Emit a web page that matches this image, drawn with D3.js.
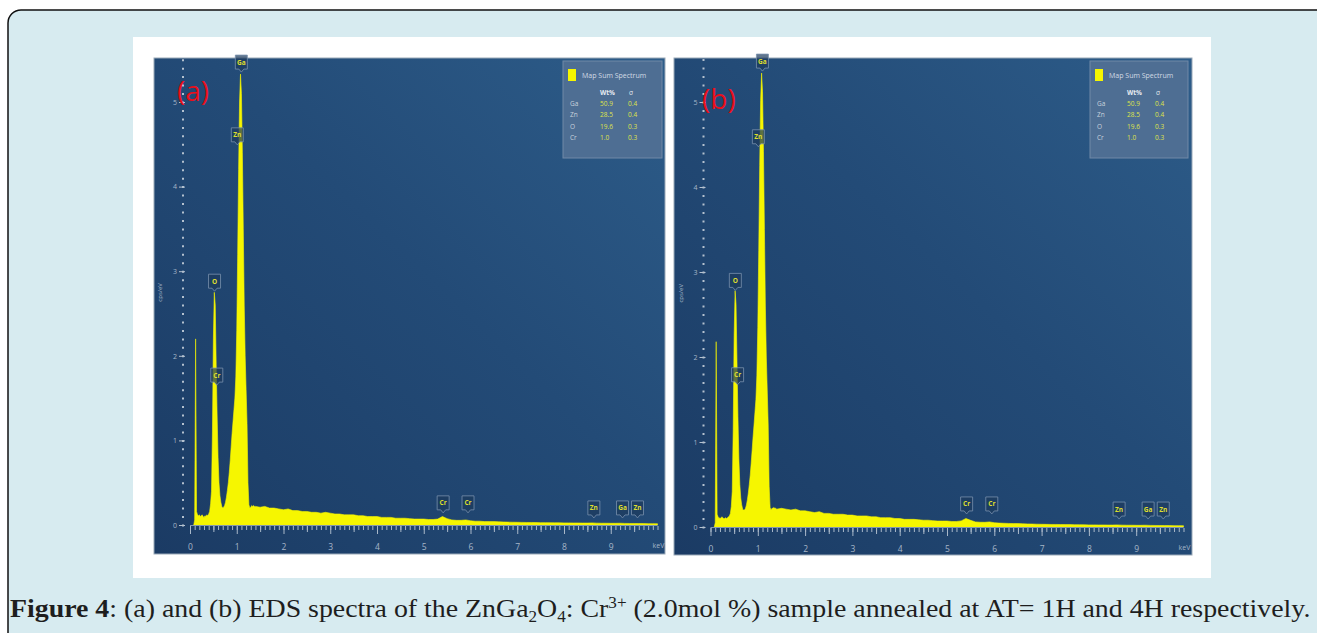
<!DOCTYPE html>
<head>
  <meta charset="utf-8">
  <script src="https://d3js.org/d3.v7.min.js"></script>
  <style>
    body { margin:0; background:#fff; }
    .tickText { font-family: 'Open Sans', sans-serif; fill: #a6b6c8; }
    .legendText { font-family: 'Open Sans', sans-serif; }
    .caption { font-family: 'Liberation Serif', serif; fill: #1e1e1e; }
  </style>
</head>

<body>
  <script>
  // ---- spectrum data (counts in cps/eV) ----
  // low energy channels: 0.00 .. 1.40 keV, every 0.02 keV
  const lowStart = 0, lowStep = 0.02;
  // tail channels: 1.5 .. 10.0 keV, every 0.1 keV
  const tailStart = 1.5, tailStep = 0.1;

  const countsLowA = [
    0, 0, 0, 0, 0, 0.06, 2.2, 0.16, 0.12, 0.11,
    0.12, 0.1, 0.11, 0.12, 0.1, 0.09, 0.11, 0.1, 0.12, 0.11,
    0.13, 0.16, 0.25, 0.4, 1.1, 2.2, 2.75, 2.6, 1.9, 1.3,
    0.8, 0.5, 0.35, 0.27, 0.22, 0.2, 0.21, 0.23, 0.27, 0.33,
    0.41, 0.5, 0.62, 0.76, 0.92, 1.08, 1.22, 1.36, 1.5, 1.75,
    2.3, 3.2, 4.2, 5.0, 5.33, 5.1, 4.4, 3.5, 2.6, 2.0,
    1.6, 1.2, 0.5, 0.24, 0.2, 0.21, 0.23, 0.22, 0.23, 0.22,
    0.22
  ];
  const countsTailA = [
    0.21, 0.22, 0.2, 0.2, 0.19, 0.18, 0.19, 0.17, 0.17, 0.16,
    0.16, 0.15, 0.15, 0.14, 0.15, 0.14, 0.13, 0.13, 0.12, 0.12,
    0.12, 0.11, 0.11, 0.1, 0.1, 0.1, 0.09, 0.09, 0.09, 0.08,
    0.08, 0.08, 0.075, 0.07, 0.07, 0.07, 0.065, 0.065, 0.07, 0.1,
    0.075, 0.06, 0.055, 0.055, 0.06, 0.05, 0.045, 0.045, 0.04, 0.04,
    0.04, 0.038, 0.036, 0.034, 0.033, 0.032, 0.031, 0.03, 0.03, 0.029,
    0.028, 0.028, 0.027, 0.026, 0.026, 0.025, 0.025, 0.024, 0.024, 0.023,
    0.023, 0.025, 0.022, 0.021, 0.021, 0.02, 0.02, 0.021, 0.019, 0.018,
    0.018, 0.017, 0.017, 0.016, 0.016, 0.015
  ];
  const countsLowB = [
    0, 0, 0, 0, 0, 0.05, 2.18, 0.15, 0.12, 0.1,
    0.11, 0.1, 0.12, 0.11, 0.1, 0.1, 0.11, 0.1, 0.11, 0.12,
    0.13, 0.16, 0.24, 0.42, 1.15, 2.25, 2.78, 2.62, 1.95, 1.3,
    0.8, 0.5, 0.34, 0.26, 0.21, 0.2, 0.2, 0.22, 0.26, 0.32,
    0.4, 0.5, 0.61, 0.75, 0.9, 1.06, 1.2, 1.35, 1.5, 1.78,
    2.35, 3.25, 4.25, 5.02, 5.34, 5.12, 4.42, 3.5, 2.6, 2.0,
    1.6, 1.2, 0.48, 0.23, 0.2, 0.22, 0.22, 0.23, 0.22, 0.22,
    0.21
  ];
  const countsTailB = [
    0.22, 0.21, 0.2, 0.21, 0.19, 0.19, 0.18, 0.17, 0.18, 0.16,
    0.16, 0.15, 0.15, 0.15, 0.14, 0.14, 0.13, 0.13, 0.13, 0.12,
    0.12, 0.11, 0.11, 0.11, 0.1, 0.1, 0.09, 0.09, 0.09, 0.085,
    0.08, 0.08, 0.075, 0.07, 0.07, 0.07, 0.065, 0.065, 0.072, 0.1,
    0.078, 0.06, 0.056, 0.055, 0.06, 0.05, 0.046, 0.044, 0.042, 0.04,
    0.04, 0.038, 0.036, 0.035, 0.033, 0.032, 0.031, 0.03, 0.03, 0.029,
    0.028, 0.028, 0.027, 0.027, 0.026, 0.025, 0.025, 0.024, 0.024, 0.023,
    0.023, 0.025, 0.022, 0.021, 0.021, 0.02, 0.02, 0.021, 0.019, 0.018,
    0.018, 0.017, 0.017, 0.016, 0.016, 0.015
  ];

  // peak identification tags (element, line energy in keV, count level under tag)
  const tagNames  = ['Ga', 'Zn', 'O', 'Cr', 'Cr', 'Cr', 'Zn', 'Ga', 'Zn'];
  const tagEnergy = [1.098, 1.012, 0.525, 0.573, 5.415, 5.947, 8.639, 9.252, 9.572];
  const tagLevelA = [5.33, 4.47, 2.74, 1.63, 0.12, 0.12, 0.06, 0.06, 0.06];
  const tagLevelB = [5.34, 4.45, 2.76, 1.65, 0.13, 0.13, 0.07, 0.07, 0.07];

  // quantification table
  const legendElems = ['Ga', 'Zn', 'O', 'Cr'];
  const wtPct = ['50.9', '28.5', '19.6', '1.0'];
  const sigma = ['0.4', '0.4', '0.3', '0.3'];

  // axis ticks
  const xMajor = [0, 1, 2, 3, 4, 5, 6, 7, 8, 9];
  const yMajor = [0, 1, 2, 3, 4, 5];

  // ---- page ----
  const svg = d3.select('body').append('svg')
                .attr('width', 1317)
                .attr('height', 633);

  const defs = svg.append('defs');
  const grad = defs.append('linearGradient')
                   .attr('id', 'panelBg')
                   .attr('x1', 0).attr('y1', 1).attr('x2', 1).attr('y2', 0);
  grad.append('stop').attr('offset', '0%').attr('stop-color', '#1b3b64');
  grad.append('stop').attr('offset', '55%').attr('stop-color', '#234b77');
  grad.append('stop').attr('offset', '100%').attr('stop-color', '#2d5c89');

  // light blue rounded frame and white figure area
  svg.append('rect')
     .attr('x', 8).attr('y', 10)
     .attr('width', 1340).attr('height', 680)
     .attr('rx', 13)
     .attr('fill', '#d7ebf0')
     .attr('stroke', '#111')
     .attr('stroke-width', 1.5);

  svg.append('rect')
     .attr('x', 133).attr('y', 37)
     .attr('width', 1078).attr('height', 541)
     .attr('fill', '#fff');

  const panels = [
    { label: '(a)', box: [154, 58, 511, 496], xr: [190, 657.5], yr: [525, 102], lab: [177, 101],
      legend: [563, 61, 99, 97], low: countsLowA, tail: countsTailA, tagLevel: tagLevelA },
    { label: '(b)', box: [674, 58, 518, 497], xr: [710.5, 1183.5], yr: [527, 102], lab: [702, 109],
      legend: [1090, 61, 98, 97], low: countsLowB, tail: countsTailB, tagLevel: tagLevelB }
  ];

  panels.forEach((p, pi) => {
    const g = svg.append('g').classed('panel', true);
    const [bx, by, bw, bh] = p.box;

    const x = d3.scaleLinear().domain([0, 10]).range(p.xr);
    const y = d3.scaleLinear().domain([0, 5]).range(p.yr);

    // background
    g.append('rect')
     .attr('x', bx).attr('y', by).attr('width', bw).attr('height', bh)
     .attr('fill', 'url(#panelBg)')
     .attr('stroke', '#9aa9b8')
     .attr('stroke-width', 1);

    const clipId = 'clip' + pi;
    defs.append('clipPath').attr('id', clipId)
        .append('rect').attr('x', bx).attr('y', by).attr('width', bw).attr('height', bh);

    // spectrum points
    const spec = p.low.map((c, i) => ({ e: lowStart + i * lowStep, c: c }))
                  .concat(p.tail.map((c, i) => ({ e: tailStart + i * tailStep, c: c })))
                  .filter(d => d.e >= 0.08);

    const area = d3.area()
                   .x(d => x(d.e))
                   .y0(y(0))
                   .y1(d => y(d.c));

    g.append('path')
     .datum(spec)
     .attr('clip-path', `url(#${clipId})`)
     .attr('d', area)
     .attr('fill', '#f6f600')
     .attr('stroke', '#f6f600')
     .attr('stroke-width', 0.6);

    // x axis: minor, mid and major ticks
    const xMinorAxis = d3.axisBottom(x).tickValues(d3.range(0, 10.05, 0.1)).tickSize(4).tickFormat('');
    const xMidAxis = d3.axisBottom(x).tickValues(d3.range(0.5, 10, 1)).tickSize(6).tickFormat('');
    const xMajorAxis = d3.axisBottom(x).tickValues(xMajor).tickSize(8).tickPadding(10).tickFormat(d3.format('d'));

    [xMinorAxis, xMidAxis, xMajorAxis].forEach(ax => {
      const a = g.append('g')
                 .attr('transform', `translate(0, ${y(0) + 1})`)
                 .call(ax);
      a.select('.domain').remove();
      a.selectAll('line').attr('stroke', '#a9b8c9').attr('stroke-width', 1);
      a.selectAll('text').attr('class', 'tickText').style('font-size', '8.5px');
    });

    g.append('line')
     .attr('x1', x(0)).attr('x2', x(10))
     .attr('y1', y(0) + 0.5).attr('y2', y(0) + 0.5)
     .attr('stroke', '#8497ad').attr('stroke-width', 1);

    g.append('text')
     .attr('class', 'tickText')
     .attr('x', x(10) + 1).attr('y', y(0) + 23)
     .attr('text-anchor', 'middle')
     .style('font-size', '7px')
     .text('keV');

    // y axis: dotted minor ticks and labelled majors
    const yMinorAxis = d3.axisLeft(y).tickValues(d3.range(0, 5.55, 0.1)).tickSize(2).tickFormat('');
    const yMajorAxis = d3.axisLeft(y).tickValues(yMajor).tickSize(6).tickPadding(2).tickFormat(d3.format('d'));

    const ym = g.append('g').attr('transform', `translate(${x(0) - 6}, 0)`).call(yMinorAxis);
    ym.select('.domain').remove();
    ym.selectAll('line').attr('stroke', '#b4c1cf').attr('stroke-width', 2);

    const yM = g.append('g').attr('transform', `translate(${x(0) - 5}, 0)`).call(yMajorAxis);
    yM.select('.domain').remove();
    yM.selectAll('line').attr('stroke', '#b4c1cf').attr('stroke-width', 1);
    yM.selectAll('text').attr('class', 'tickText').style('font-size', '7px');

    g.append('text')
     .attr('class', 'tickText')
     .attr('transform', `translate(${x(0) - 28}, ${y(2.75)}) rotate(-90)`)
     .attr('text-anchor', 'middle')
     .style('font-size', '6px')
     .text('cps/eV');

    // peak tags
    const tags = g.append('g').selectAll('g')
                  .data(tagNames.map((n, i) => ({ n: n, e: tagEnergy[i], l: p.tagLevel[i] })))
                  .enter().append('g')
                  .attr('transform', d => `translate(${x(d.e)}, ${y(d.l) - 2})`);

    tags.append('path')
        .attr('d', 'M-6,-17 h12 v14 h-3.5 l-2.5,3 l-2.5,-3 h-3.5 z')
        .attr('fill', '#1d3a5c')
        .attr('fill-opacity', 0.7)
        .attr('stroke', '#7890ad')
        .attr('stroke-width', 0.8)
        .attr('stroke-linejoin', 'round');

    tags.append('text')
        .attr('y', -7.5)
        .attr('text-anchor', 'middle')
        .style('font-family', 'Open Sans, sans-serif')
        .style('font-size', '6.5px')
        .style('font-weight', 'bold')
        .attr('fill', '#dede2e')
        .text(d => d.n);

    // quantification legend
    const [lx, ly, lw, lh] = p.legend;
    const lg = g.append('g').attr('transform', `translate(${lx}, ${ly})`);
    lg.append('rect')
      .attr('width', lw).attr('height', lh)
      .attr('fill', '#4e6e93')
      .attr('stroke', '#7089a7')
      .attr('stroke-width', 1);
    lg.append('rect')
      .attr('x', 5).attr('y', 8).attr('width', 8).attr('height', 12)
      .attr('fill', '#f6f600');
    lg.append('text')
      .attr('class', 'legendText')
      .attr('x', 19).attr('y', 17)
      .style('font-size', '7px')
      .attr('fill', '#d3dbe5')
      .text('Map Sum Spectrum');
    lg.append('text')
      .attr('class', 'legendText')
      .attr('x', 37).attr('y', 34)
      .style('font-size', '6.5px').style('font-weight', 'bold')
      .attr('fill', '#e6ebf1')
      .text('Wt%');
    lg.append('text')
      .attr('class', 'legendText')
      .attr('x', 66).attr('y', 34)
      .style('font-size', '6.5px')
      .attr('fill', '#e6ebf1')
      .text('σ');

    const rows = lg.selectAll('.row')
                   .data(legendElems)
                   .enter().append('g')
                   .classed('row', true)
                   .attr('transform', (d, i) => `translate(0, ${45 + i * 11.3})`);
    rows.append('text')
        .attr('class', 'legendText')
        .attr('x', 7)
        .style('font-size', '6.5px')
        .attr('fill', '#c9d2dd')
        .text(d => d);
    rows.append('text')
        .attr('class', 'legendText')
        .attr('x', 37)
        .style('font-size', '6.5px')
        .attr('fill', '#dfe34a')
        .text((d, i) => wtPct[i]);
    rows.append('text')
        .attr('class', 'legendText')
        .attr('x', 65)
        .style('font-size', '6.5px')
        .attr('fill', '#dfe34a')
        .text((d, i) => sigma[i]);

    // panel label
    g.append('text')
     .attr('x', p.lab[0]).attr('y', p.lab[1])
     .style('font-family', 'Open Sans, sans-serif')
     .style('font-size', '28px')
     .attr('fill', '#ea0f1a')
     .text(p.label);
  });

  // ---- caption ----
  const cap = svg.append('text')
                 .attr('class', 'caption')
                 .style('font-size', '26px');
  cap.append('tspan').style('font-weight', 'bold').text('Figure 4');
  cap.append('tspan').text(': (a) and (b) EDS spectra of the ZnGa');
  cap.append('tspan').attr('dy', 5).style('font-size', '16px').text('2');
  cap.append('tspan').attr('dy', -5).text('O');
  cap.append('tspan').attr('dy', 5).style('font-size', '16px').text('4');
  cap.append('tspan').attr('dy', -5).text(': Cr');
  cap.append('tspan').attr('dy', -9).style('font-size', '16px').text('3+');
  cap.append('tspan').attr('dy', 9).text(' (2.0mol %) sample annealed at AT= 1H and 4H respectively.');

  const capW = cap.node().getComputedTextLength();
  cap.attr('transform', `translate(10, 617) scale(${1301 / capW}, 1)`);
  </script>
</body>
